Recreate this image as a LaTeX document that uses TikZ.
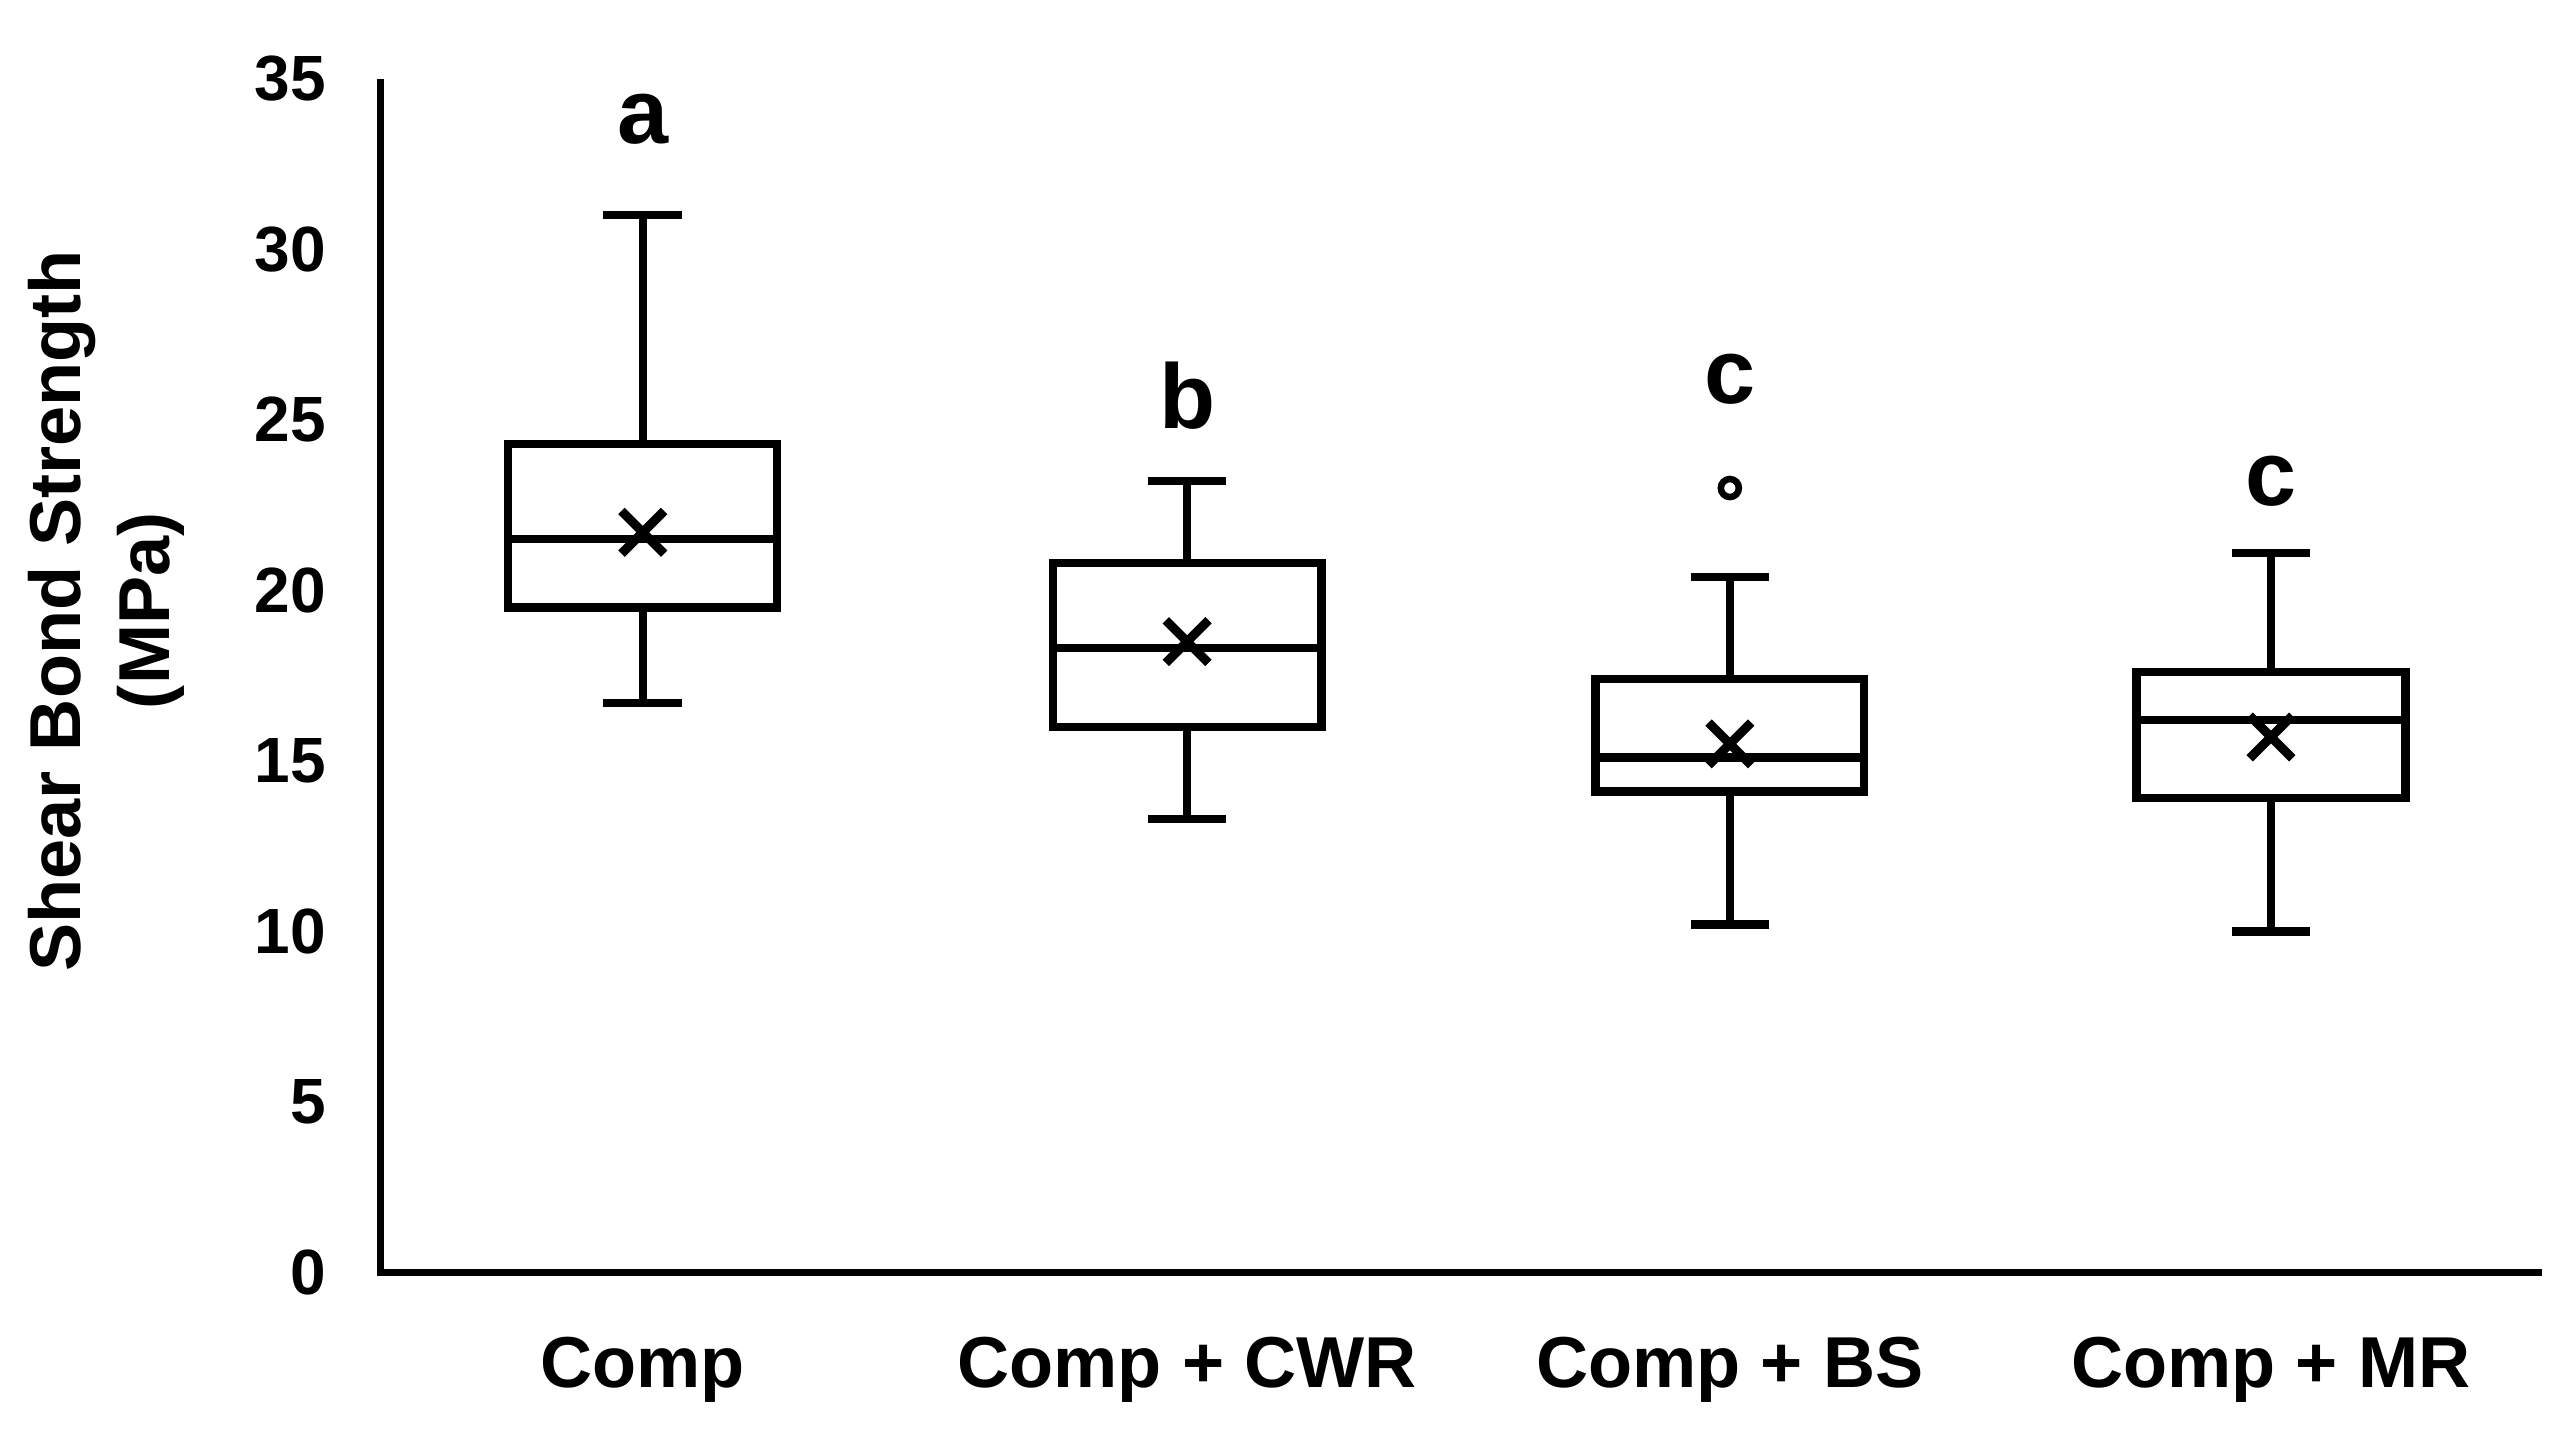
\documentclass[tikz,border=0pt]{standalone}
\usepackage{fontspec}
\setmainfont{Liberation Sans}
\begin{document}
\begin{tikzpicture}[x=1pt,y=20.8pt,line width=4pt,
  tick/.style={anchor=east,font=\fontsize{39}{39}\selectfont\bfseries},
  cat/.style={font=\fontsize{44}{44}\selectfont\bfseries},
  let/.style={font=\fontsize{56}{56}\selectfont\bfseries},
  bx/.style={line width=5pt}]
\useasboundingbox (-232,-4.808) rectangle (1336,37.31);
\coordinate (o) at (0,0);
\coordinate (yt) at (0,35);
\coordinate (xe) at (1318,0);
\draw (yt) -- (o) -- (xe);
\foreach \v in {0,5,...,35}{\node[tick] (t\v) at (-28,\v) {\v};}
\node[rotate=90,font=\fontsize{44}{54}\selectfont\bfseries,align=center] (yl) at (-167,19.4) {Shear Bond Strength\\(MPa)};
\foreach \n/\cx/\lo/\qa/\md/\qb/\hi/\mn/\lt/\ly/\lab in {
 A/160/16.7/19.5/21.5/24.3/31/21.7/a/33.8/Comp,
 B/492/13.3/16/18.3/20.8/23.2/18.5/b/25.7/Comp + CWR,
 C/823/10.2/14.1/15.1/17.4/20.4/15.5/c/26.2/Comp + BS,
 D/1153/10/13.9/16.2/17.6/21.1/15.7/c/23.2/Comp + MR}{
  \draw[bx] (\cx-82,\qa) rectangle (\cx+82,\qb);
  \draw[bx] (\cx-82,\md) -- (\cx+82,\md);
  \draw[bx] (\cx,\qb) -- (\cx,\hi) (\cx-24,\hi) -- (\cx+24,\hi);
  \draw[bx] (\cx,\qa) -- (\cx,\lo) (\cx-24,\lo) -- (\cx+24,\lo);
  \coordinate (m\n) at (\cx,\mn);
  \draw[line width=5.5pt] ([shift={(-13pt,-13pt)}]m\n) -- ([shift={(13pt,13pt)}]m\n)
        ([shift={(-13pt,13pt)}]m\n) -- ([shift={(13pt,-13pt)}]m\n);
  \node[let] (l\n) at (\cx,\ly) {\lt};
  \node[cat] (c\n) at (\cx,-2.85) {\lab};
}
\coordinate (out) at (823,23.0);
\draw[line width=4pt] (out) circle (5.5pt);
\end{tikzpicture}
\end{document}
